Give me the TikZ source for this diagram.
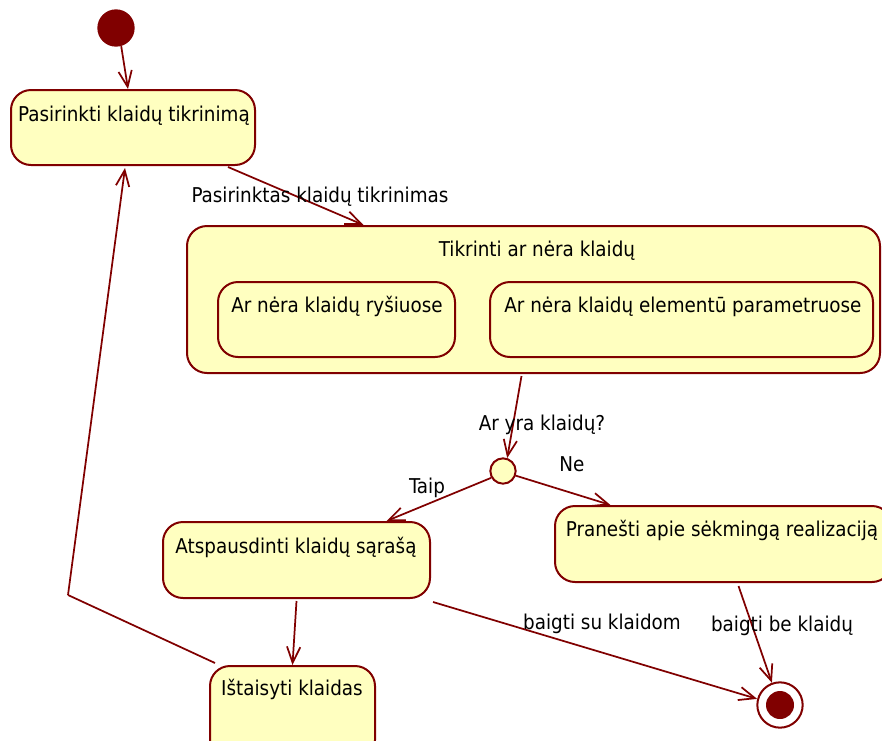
\documentclass[tikz,border=0pt]{standalone}
\usepackage{fontspec}
\setmainfont{DejaVu Sans Condensed}
\usetikzlibrary{arrows.meta,calc,fit}
\definecolor{umlborder}{HTML}{800000}
\definecolor{umlfill}{HTML}{FFFFC0}
\begin{document}
\begin{tikzpicture}[x=0.75pt,y=-0.75pt,
  state/.style={draw=umlborder, fill=umlfill, line width=1.5pt, rounded corners=15pt, inner sep=0pt},
  txt/.style={font=\fontsize{15.3}{18}\selectfont, inner sep=0pt, anchor=base},
  flow/.style={draw=umlborder, line width=1.3pt,
    -{Straight Barb[length=12pt,width=10pt,line width=1.3pt]}},
  plain/.style={draw=umlborder, line width=1.3pt}]
\useasboundingbox (0,0) rectangle (882,740);

% initial and final states
\node[circle, fill=umlborder, minimum size=28pt, inner sep=0pt] (init) at (116,28) {};
\node[circle, draw=umlborder, fill=white, line width=1.5pt, minimum size=34pt, inner sep=0pt] (final) at (780,705) {};
\node[circle, fill=umlborder, minimum size=21pt, inner sep=0pt] (finalDot) at (780,705) {};

% activity states
\node[state, fit={(11,90) (255,165)}] (choose) {};
\node[txt] (chooseT) at (134,121) {Pasirinkti klaidų tikrinimą};

\node[state, fit={(187,226) (880,373)}] (check) {};
\node[txt] (checkT) at (537,256) {Tikrinti ar nėra klaidų};
\node[state, fit={(218,282) (455,357)}] (links) {};
\node[txt] (linksT) at (337,312) {Ar nėra klaidų ryšiuose};
\node[state, fit={(490,282) (873,357)}] (params) {};
\node[txt] (paramsT) at (683,312) {Ar nėra klaidų elementū parametruose};

\node[circle, draw=umlborder, fill=umlfill, line width=1.5pt, minimum size=19pt, inner sep=0pt] (dec) at (503,471) {};

\node[state, fit={(163,522) (430,598)}] (print) {};
\node[txt] (printT) at (296,553) {Atspausdinti klaidų sąrašą};
\node[state, fit={(555,506) (892,582)}] (ok) {};
\node[txt] (okT) at (722,536) {Pranešti apie sėkmingą realizaciją};
\node[state, fit={(210,666) (375,760)}] (fix) {};
\node[txt] (fixT) at (292,695) {Ištaisyti klaidas};

% transitions
\draw[flow] (init.-74) -- ($(choose.north)+(-5,0)$);
\draw[flow] ($(choose.south)+(95,1)$) -- ($(check.north)+(-170,0)$);
\node[txt] (lblChosen) at (320,202) {Pasirinktas klaidų tikrinimas};
\draw[flow] ($(check.south)+(-12,2)$) -- (dec.72);
\node[txt] (lblAsk) at (542,430) {Ar yra klaidų?};
\draw[flow] (dec.210) -- ($(print.north)+(90,0)$);
\node[txt] (lblYes) at (427,493) {Taip};
\draw[flow] (dec.-20) -- ($(ok.north)+(-113,0)$);
\node[txt] (lblNo) at (572,471) {Ne};
\draw[flow] ($(print.south)+(0,2)$) -- ($(fix.north)+(0,0)$);
\draw[plain] ($(fix.north west)+(6,-2)$) -- (68,595)
  edge[flow] ($(choose.south)+(-8,2)$);
\draw[flow] ($(print.south east)+(2,3)$) -- (final.165);
\node[txt] (lblErr) at (602,629) {baigti su klaidom};
\draw[flow] ($(ok.south)+(15,3)$) -- (final.110);
\node[txt] (lblClean) at (782,631) {baigti be klaidų};
\end{tikzpicture}
\end{document}
